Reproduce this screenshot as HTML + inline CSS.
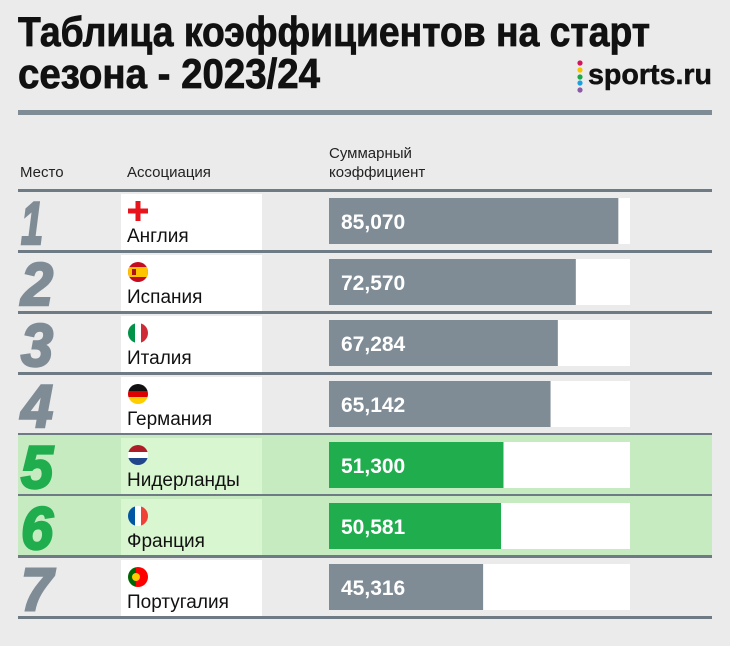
<!DOCTYPE html>
<html><head><meta charset="utf-8"><style>
body{margin:0;background:#ebebeb;}
svg{display:block;font-family:"Liberation Sans",sans-serif;}
</style></head><body>
<svg width="730" height="646" viewBox="0 0 730 646">
<rect x="0" y="0" width="730" height="646" fill="#ebebeb"/>
<text x="18" y="46" font-weight="bold" font-size="42" textLength="632" lengthAdjust="spacingAndGlyphs" fill="#111" stroke="#111" stroke-width="0.8">Таблица коэффициентов на старт</text>
<text x="18" y="88" font-weight="bold" font-size="42" textLength="302" lengthAdjust="spacingAndGlyphs" fill="#111" stroke="#111" stroke-width="0.8">сезона - 2023/24</text>
<g>
<circle cx="580" cy="63" r="2.6" fill="#d6145c"/><circle cx="580" cy="70" r="2.6" fill="#f5c400"/><circle cx="580" cy="77" r="2.6" fill="#1aa84a"/><circle cx="580" cy="83" r="2.6" fill="#1aa0dc"/><circle cx="580" cy="90" r="2.6" fill="#8a5aa8"/>
<text x="588" y="84" font-weight="bold" font-size="29" textLength="124" lengthAdjust="spacingAndGlyphs" fill="#111" stroke="#111" stroke-width="0.5">sports.ru</text>
</g>
<rect x="18" y="110" width="694" height="5" fill="#7f8c96"/>
<text x="20" y="177" font-size="15" fill="#222">Место</text>
<text x="127" y="177" font-size="15" fill="#222">Ассоциация</text>
<text x="329" y="158" font-size="15" fill="#222"><tspan x="329">Суммарный</tspan><tspan x="329" y="177">коэффициент</tspan></text>
<g id="rows"></g>
</svg>
<script>
const ranks=[1,2,3,4,5,6,7];
const countries=["Англия","Испания","Италия","Германия","Нидерланды","Франция","Португалия"];
const values=[85.070,72.570,67.284,65.142,51.300,50.581,45.316];
const labels=["85,070","72,570","67,284","65,142","51,300","50,581","45,316"];
const highlighted=[false,false,false,false,true,true,false];
const NS="http://www.w3.org/2000/svg";
const g=document.getElementById('rows');
const X0=329,TRACK=301,MAXV=88.5;
const xs=v=>v/MAXV*TRACK;
function el(t,a,p){const e=document.createElementNS(NS,t);for(const k in a)e.setAttribute(k,a[k]);(p||g).appendChild(e);return e;}
function flag(i,cx,cy,grp){
  const id='c'+i;const d=el('defs',{},grp);const cp=el('clipPath',{id:id},d);el('circle',{cx:cx,cy:cy,r:10},cp);
  const f=el('g',{'clip-path':'url(#'+id+')'},grp);
  const r=(x,y,w,h,c)=>el('rect',{x:x,y:y,width:w,height:h,fill:c},f);
  const L=cx-10,T=cy-10;
  if(i===0){const p=el('g',{},grp);el('rect',{x:cx-10,y:cy-2.5,width:20,height:5,fill:'#e8141c'},p);el('rect',{x:cx-2.5,y:cy-10,width:5,height:20,fill:'#e8141c'},p);}
  else if(i===1){r(L,T,20,20,'#c60b1e');r(L,T+5,20,10,'#ffc400');r(L+4,T+7,4,6,'#ad1519');}
  else if(i===2){r(L,T,7,20,'#009246');r(L+7,T,6,20,'#fff');r(L+13,T,7,20,'#ce2b37');}
  else if(i===3){r(L,T,20,7,'#111');r(L,T+7,20,6,'#dd0000');r(L,T+13,20,7,'#ffce00');}
  else if(i===4){r(L,T,20,7,'#ae1c28');r(L,T+7,20,6,'#fff');r(L,T+13,20,7,'#21468b');}
  else if(i===5){r(L,T,7,20,'#0055a4');r(L+7,T,6,20,'#fff');r(L+13,T,7,20,'#ef4135');}
  else {r(L,T,8,20,'#006600');r(L+8,T,12,20,'#ff0000');el('circle',{cx:L+8,cy:cy,r:4,fill:'#ffcc00'},f);}
}
ranks.forEach((rk,i)=>{
  const top=191+61*i,hl=highlighted[i];
  const row=el('g',{});
  
  
  if(hl){el('rect',{x:18,y:top,width:694,height:61,fill:'#c7ebc0'},row);}
  const cell=el('rect',{x:121,y:top+3,width:141,height:58,fill:hl?'#d8f6d0':'#fff'},row);
  
  
  const col=hl?'#20ad4e':'#7f8c96';
  const rt=el('text',{x:21,y:top+53,'font-size':60,'font-weight':'bold','font-style':'italic',fill:col,stroke:col,'stroke-width':2.5,textLength:rk===1?22:32,lengthAdjust:'spacingAndGlyphs'},row);
  rt.textContent=rk;
  
  
  const fg=el('g',{},row);
  
  
  flag(i,138,top+20,fg);
  const nt=el('text',{x:127,y:top+51,'font-size':19,fill:'#111'},row);
  nt.textContent=countries[i];
  
  
  const tr=el('rect',{x:X0,y:top+7,width:TRACK,height:46,fill:'#fff'},row);
  
  
  const b=el('rect',{x:X0,y:top+7,width:xs(values[i]),height:46,fill:hl?'#20ad4e':'#7f8c96'},row);
  
  
  const vt=el('text',{x:X0+12,y:top+38,'font-size':21,'font-weight':'bold',fill:'#fff'},row);
  vt.textContent=labels[i];
  
  
  const ln=el('rect',{x:18,y:top+59,width:694,height:3,fill:'#6f7b84'},row);
  
  
});
const hl0=el('rect',{x:18,y:189,width:694,height:3,fill:'#6f7b84'});


</script>
</body></html>
